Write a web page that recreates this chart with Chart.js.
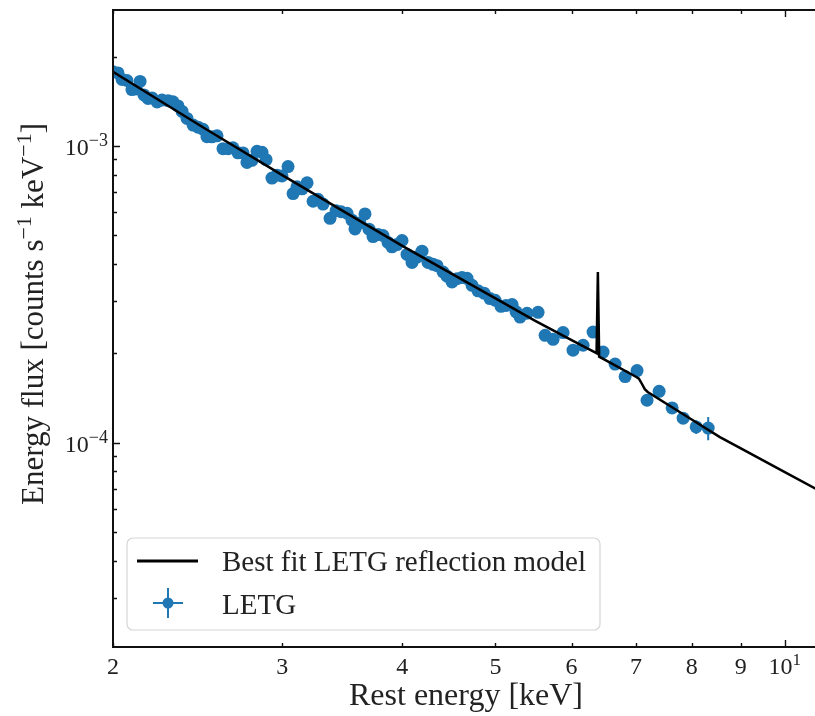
<!DOCTYPE html>
<html>
<head>
<meta charset="utf-8">
<script src="https://cdn.jsdelivr.net/npm/chart.js@4.4.1/dist/chart.umd.min.js"></script>
<style>
  html, body { margin: 0; padding: 0; background: #fff; overflow: hidden; }
</style>
</head>
<body>
<canvas id="spectrum" width="815" height="716"></canvas>
<script>
// LETG spectrum, rest frame energies [keV] and energy flux [counts s^-1 keV^-1]
const letgEnergy = [
  2.000, 2.024, 2.044, 2.068, 2.093, 2.113, 2.134, 2.154, 2.175, 2.196,
  2.223, 2.249, 2.282, 2.309, 2.337, 2.360, 2.388, 2.423, 2.452, 2.481,
  2.505, 2.535, 2.566, 2.603, 2.635, 2.666, 2.698, 2.731, 2.757, 2.790,
  2.824, 2.858, 2.886, 2.927, 2.963, 2.998, 3.042, 3.079, 3.108, 3.146,
  3.184, 3.230, 3.268, 3.308, 3.364, 3.413, 3.454, 3.504, 3.546, 3.571,
  3.614, 3.658, 3.693, 3.729, 3.774, 3.819, 3.865, 3.902, 3.949, 3.997,
  4.045, 4.094, 4.143, 4.193, 4.254, 4.305, 4.347, 4.410, 4.452, 4.506,
  4.560, 4.615, 4.671, 4.727, 4.795, 4.865, 4.935, 4.995, 5.067, 5.128,
  5.203, 5.253, 5.303, 5.393, 5.537, 5.631, 5.740, 5.879, 6.021, 6.168,
  6.317, 6.470, 6.659, 6.821, 7.019, 7.189, 7.400, 7.634, 7.838, 8.087,
  8.323
];
const letgFlux = [
  1.776e-3, 1.762e-3, 1.675e-3, 1.661e-3, 1.548e-3, 1.555e-3, 1.649e-3, 1.485e-3, 1.445e-3, 1.451e-3,
  1.406e-3, 1.427e-3, 1.420e-3, 1.408e-3, 1.364e-3, 1.307e-3, 1.238e-3, 1.175e-3, 1.156e-3, 1.138e-3,
  1.074e-3, 1.073e-3, 1.081e-3, 9.79e-4, 9.79e-4, 9.86e-4, 9.48e-4, 9.47e-4, 8.80e-4, 8.94e-4,
  9.59e-4, 9.52e-4, 8.99e-4, 7.79e-4, 7.97e-4, 7.92e-4, 8.52e-4, 6.91e-4, 7.28e-4, 7.17e-4,
  7.51e-4, 6.51e-4, 6.61e-4, 6.37e-4, 5.70e-4, 6.05e-4, 6.00e-4, 5.93e-4, 5.62e-4, 5.25e-4,
  5.50e-4, 5.90e-4, 5.24e-4, 4.95e-4, 5.03e-4, 4.99e-4, 4.73e-4, 4.57e-4, 4.65e-4, 4.80e-4,
  4.31e-4, 4.05e-4, 4.22e-4, 4.42e-4, 4.05e-4, 3.99e-4, 3.95e-4, 3.76e-4, 3.64e-4, 3.48e-4,
  3.57e-4, 3.60e-4, 3.58e-4, 3.39e-4, 3.25e-4, 3.19e-4, 3.06e-4, 3.02e-4, 2.88e-4, 2.90e-4,
  2.92e-4, 2.76e-4, 2.65e-4, 2.73e-4, 2.75e-4, 2.30e-4, 2.23e-4, 2.35e-4, 2.05e-4, 2.13e-4,
  2.36e-4, 2.02e-4, 1.84e-4, 1.67e-4, 1.75e-4, 1.39e-4, 1.49e-4, 1.31e-4, 1.21e-4, 1.13e-4,
  1.12e-4
];
// 1-sigma errors of the last bins (the rest are smaller than the markers)
const letgEnergyErr = [0.08, 0.10, 0.115];
const letgFluxErr = [4.5e-6, 6e-6, 1.0e-5];

// best fit reflection model (power law + Fe K line + Fe K edge)
const modelEnergy = [2.0, 2.5, 3.0, 3.5, 4.0, 4.5, 5.0, 5.5, 6.0, 6.37, 6.39, 6.41,
  7.0, 7.05, 7.1, 7.15, 7.2, 8.0, 8.56, 9.0, 10.0, 11.0];
const modelFlux = [1.776e-3, 1.138e-3, 7.97e-4, 5.94e-4, 4.607e-4, 3.713e-4, 3.063e-4, 2.574e-4,
  2.216e-4, 2.004e-4, 3.76e-4, 1.95e-4, 1.668e-4, 1.645e-4, 1.58e-4, 1.515e-4, 1.482e-4,
  1.197e-4, 1.045e-4, 9.57e-5, 7.96e-5, 6.74e-5];

// axis limits and ticks
const xRange = [2, 10.75];
const yRange = [2.05e-5, 2.87e-3];
const xTicks = [2, 3, 4, 5, 6, 7, 8, 9, 10];
const xTickLabels = [['2'], ['3'], ['4'], ['5'], ['6'], ['7'], ['8'], ['9'], ['10', '1']];
const yMajorTicks = [1e-4, 1e-3];
const yTickLabels = [['10', '\u22124'], ['10', '\u22123']];
const yMinorTicks = [3e-5, 4e-5, 5e-5, 6e-5, 7e-5, 8e-5, 9e-5,
  2e-4, 3e-4, 4e-4, 5e-4, 6e-4, 7e-4, 8e-4, 9e-4, 2e-3];

const SERIF = '"Liberation Serif", "DejaVu Serif", serif';
const INK = '#222';
const BLUE = '#1f77b4';

// text with superscripts: plain strings are set on the baseline, [str] is raised
function drawMath(ctx, pieces, x, y, align, size, supScale) {
  const supSize = Math.round(size * (supScale || 0.7));
  const parts = pieces.map(t => Array.isArray(t) ? { t: t[0], sup: true } : { t: t, sup: false });
  let total = 0;
  parts.forEach(p => {
    ctx.font = (p.sup ? supSize : size) + 'px ' + SERIF;
    p.w = ctx.measureText(p.t).width;
    total += p.w;
  });
  let cx = align === 'center' ? x - total / 2 : align === 'right' ? x - total : x;
  ctx.textAlign = 'left';
  ctx.textBaseline = 'alphabetic';
  parts.forEach(p => {
    ctx.font = (p.sup ? supSize : size) + 'px ' + SERIF;
    ctx.fillText(p.t, cx, p.sup ? y - size * 0.38 : y);
    cx += p.w;
  });
}

const axesPlugin = {
  id: 'axesPlugin',
  beforeDatasetsDraw(chart) {
    const { ctx, scales: { x, y } } = chart;
    const n = letgEnergy.length;
    const k = letgEnergyErr.length;
    ctx.save();
    ctx.strokeStyle = BLUE;
    ctx.lineWidth = 2;
    for (let i = 0; i < k; i++) {
      const j = n - k + i;
      const e = letgEnergy[j], f = letgFlux[j];
      const px = x.getPixelForValue(e), py = y.getPixelForValue(f);
      ctx.beginPath();
      ctx.moveTo(x.getPixelForValue(e - letgEnergyErr[i]), py);
      ctx.lineTo(x.getPixelForValue(e + letgEnergyErr[i]), py);
      ctx.moveTo(px, y.getPixelForValue(f - letgFluxErr[i]));
      ctx.lineTo(px, y.getPixelForValue(f + letgFluxErr[i]));
      ctx.stroke();
    }
    ctx.restore();
  },
  afterDraw(chart) {
    const { ctx, chartArea: a, scales: { x, y } } = chart;
    ctx.save();

    // frame: left, bottom, top (right spine falls outside the canvas)
    ctx.strokeStyle = '#111';
    ctx.lineWidth = 2;
    ctx.beginPath();
    ctx.moveTo(a.right + 2, a.top);
    ctx.lineTo(a.left, a.top);
    ctx.lineTo(a.left, a.bottom);
    ctx.lineTo(a.right + 2, a.bottom);
    ctx.stroke();

    // inward ticks
    ctx.lineWidth = 1.4;
    ctx.beginPath();
    xTicks.forEach(v => {
      const px = Math.round(x.getPixelForValue(v)) + 0.5;
      const len = v === 10 ? 7 : 4;
      ctx.moveTo(px, a.bottom); ctx.lineTo(px, a.bottom - len);
      ctx.moveTo(px, a.top); ctx.lineTo(px, a.top + len);
    });
    yMajorTicks.forEach(v => {
      const py = Math.round(y.getPixelForValue(v)) + 0.5;
      ctx.moveTo(a.left, py); ctx.lineTo(a.left + 7, py);
    });
    yMinorTicks.forEach(v => {
      const py = Math.round(y.getPixelForValue(v)) + 0.5;
      ctx.moveTo(a.left, py); ctx.lineTo(a.left + 4, py);
    });
    ctx.stroke();

    // tick labels
    ctx.fillStyle = INK;
    xTicks.forEach((v, i) => {
      const lab = xTickLabels[i];
      const pieces = lab.length > 1 ? [lab[0], [lab[1]]] : [lab[0]];
      drawMath(ctx, pieces, x.getPixelForValue(v), a.bottom + 27, 'center', 24);
    });
    yMajorTicks.forEach((v, i) => {
      const lab = yTickLabels[i];
      drawMath(ctx, [lab[0], [lab[1]]], a.left - 5, y.getPixelForValue(v) + 9, 'right', 24, 0.75);
    });

    // axis titles
    drawMath(ctx, ['Rest energy [keV]'], 466, 705, 'center', 32);
    ctx.save();
    ctx.translate(43, 314);
    ctx.rotate(-Math.PI / 2);
    drawMath(ctx, ['Energy flux [counts s', ['\u22121'], ' keV', ['\u22121'], ']'], 0, 0, 'center', 31);
    ctx.restore();

    // legend
    const bx = 127, by = 538, bw = 473, bh = 92, r = 6;
    ctx.beginPath();
    ctx.moveTo(bx + r, by);
    ctx.arcTo(bx + bw, by, bx + bw, by + bh, r);
    ctx.arcTo(bx + bw, by + bh, bx, by + bh, r);
    ctx.arcTo(bx, by + bh, bx, by, r);
    ctx.arcTo(bx, by, bx + bw, by, r);
    ctx.closePath();
    ctx.fillStyle = 'rgba(255,255,255,0.8)';
    ctx.fill();
    ctx.strokeStyle = '#d6d6d6';
    ctx.lineWidth = 1.2;
    ctx.stroke();

    const sets = chart.data.datasets;
    ctx.strokeStyle = '#000';
    ctx.lineWidth = 3;
    ctx.beginPath();
    ctx.moveTo(137, 561); ctx.lineTo(198, 561);
    ctx.stroke();

    ctx.strokeStyle = BLUE;
    ctx.lineWidth = 2;
    ctx.beginPath();
    ctx.moveTo(153, 603); ctx.lineTo(183, 603);
    ctx.moveTo(168, 588); ctx.lineTo(168, 618);
    ctx.stroke();
    ctx.fillStyle = BLUE;
    ctx.beginPath();
    ctx.arc(168, 603, 5.5, 0, Math.PI * 2);
    ctx.fill();

    ctx.fillStyle = INK;
    drawMath(ctx, [sets[0].label], 222, 571, 'left', 29);
    drawMath(ctx, [sets[1].label], 222, 614, 'left', 29);

    ctx.restore();
  }
};

new Chart(document.getElementById('spectrum'), {
  type: 'scatter',
  data: {
    datasets: [
      {
        type: 'line',
        label: 'Best fit LETG reflection model',
        data: modelEnergy.map((e, i) => ({ x: e, y: modelFlux[i] })),
        borderColor: '#000',
        borderWidth: 2.5,
        pointRadius: 0,
        tension: 0,
        fill: false,
        order: 0,
        clip: 0
      },
      {
        label: 'LETG',
        data: letgEnergy.map((e, i) => ({ x: e, y: letgFlux[i] })),
        backgroundColor: BLUE,
        borderColor: BLUE,
        pointRadius: 6.5,
        pointBorderWidth: 0,
        order: 1,
        clip: 0
      }
    ]
  },
  options: {
    responsive: false,
    animation: false,
    devicePixelRatio: 1,
    layout: { autoPadding: false, padding: { left: 113, top: 10, right: 0, bottom: 69 } },
    plugins: { legend: { display: false }, tooltip: { enabled: false } },
    scales: {
      x: { type: 'logarithmic', min: xRange[0], max: xRange[1], display: false },
      y: { type: 'logarithmic', min: yRange[0], max: yRange[1], display: false }
    }
  },
  plugins: [axesPlugin]
});
</script>
</body>
</html>
